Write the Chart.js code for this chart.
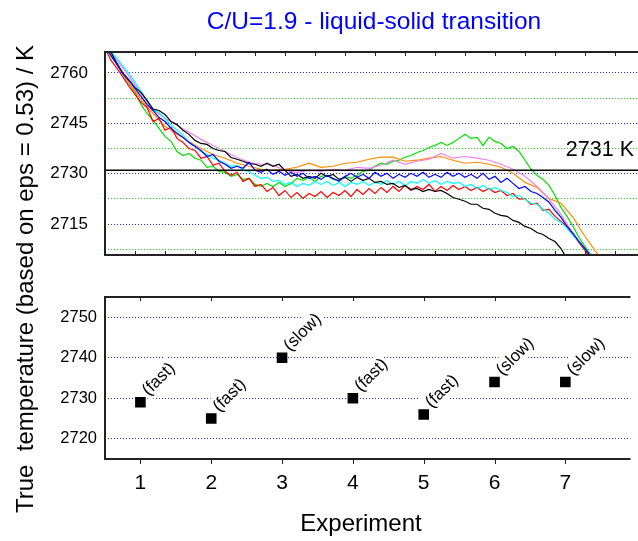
<!DOCTYPE html>
<html lang="en">
<head>
<meta charset="UTF-8">
<title>C/U=1.9 - liquid-solid transition</title>
<script src="https://cdn.jsdelivr.net/npm/chart.js@4.4.0/dist/chart.umd.min.js"></script>
<style>
    body { margin: 0; background: #fff; }
    #wrap { position: relative; width: 638px; height: 541px; font-family: "Liberation Sans", Arial, sans-serif; }
    #wrap canvas { position: absolute; left: 0; }
    #coolingChart { top: 0; }
    #meltChart { top: 265px; }
    .lbl { position: absolute; line-height: 1; white-space: pre; transform: translate(-50%, -50%); color: #000; }
    #title { left: 374px; top: 21px; font-size: 24.5px; color: #0000ff; }
    #xTitle { left: 361px; top: 523px; font-size: 24px; }
    #yTitle { left: 25px; top: 279px; font-size: 24px; transform: translate(-50%, -50%) rotate(-90deg); }
</style>
</head>
<body>
<div id="wrap">
    <canvas id="coolingChart" width="638" height="265"></canvas>
    <canvas id="meltChart" width="638" height="276"></canvas>
    <div class="lbl" id="title">C/U=1.9 - liquid-solid transition</div>
    <div class="lbl" id="yTitle">True  temperature (based on eps = 0.53) / K</div>
    <div class="lbl" id="xTitle">Experiment</div>
</div>

<script>
    // cooling curves, one per experiment (time in arbitrary units, 6 per sample)
    const curveBlack = [
        2768.2, 2766.1, 2762.8, 2759.8, 2757.8, 2755.6, 2754.2, 2751.8, 2749.2, 2748.8,
        2747.6, 2745.5, 2744.6, 2742.9, 2741.7, 2739.9, 2739.0, 2738.7, 2737.5, 2736.9,
        2736.6, 2734.8, 2734.3, 2733.7, 2733.0, 2732.8, 2732.2, 2733.1, 2732.2, 2732.8,
        2731.0, 2729.2, 2729.8, 2728.6, 2729.2, 2728.6, 2730.1, 2729.2, 2729.8, 2728.3,
        2728.9, 2727.7, 2728.9, 2728.0, 2728.6, 2727.4, 2727.7, 2726.8, 2727.1, 2725.9,
        2726.5, 2725.3, 2725.6, 2724.7, 2725.3, 2724.7, 2725.0, 2724.1, 2722.9, 2722.4,
        2721.8, 2720.9, 2720.9, 2719.7, 2719.4, 2718.2, 2717.6, 2717.3, 2716.1, 2715.5,
        2714.3, 2713.7, 2712.5, 2711.9, 2710.7, 2709.8, 2707.7, 2704.7, 2702.3
    ];
    const curveRed = [
        2767.3, 2763.7, 2761.3, 2758.7, 2756.0, 2753.6, 2751.2, 2749.7, 2745.5, 2746.4,
        2742.9, 2743.8, 2740.5, 2739.3, 2737.5, 2736.9, 2734.6, 2735.1, 2732.5, 2733.1,
        2730.7, 2729.5, 2730.4, 2727.7, 2728.6, 2726.2, 2726.8, 2724.7, 2725.9, 2723.5,
        2725.0, 2722.9, 2724.4, 2722.6, 2724.1, 2723.2, 2724.7, 2722.9, 2724.4, 2723.5,
        2725.0, 2723.2, 2725.3, 2723.8, 2725.6, 2724.1, 2725.9, 2724.4, 2726.2, 2724.7,
        2726.5, 2725.0, 2726.2, 2725.3, 2726.8, 2724.7, 2726.2, 2725.0, 2726.5, 2725.3,
        2726.2, 2725.0, 2725.9, 2724.7, 2725.6, 2724.4, 2725.0, 2723.5, 2724.1, 2722.4,
        2722.6, 2720.9, 2721.2, 2719.1, 2719.4, 2717.3, 2715.8, 2714.3, 2711.9, 2709.5,
        2707.2, 2704.7, 2702.3
    ];
    const curveGreen = [
        2767.9, 2764.9, 2762.5, 2759.5, 2756.9, 2754.2, 2750.6, 2747.9, 2745.9, 2743.5,
        2741.1, 2739.6, 2736.6, 2735.4, 2736.0, 2734.6, 2734.0, 2731.9, 2732.2, 2730.7,
        2730.4, 2729.2, 2729.8, 2728.3, 2728.6, 2726.8, 2726.2, 2727.1, 2726.2, 2727.4,
        2726.2, 2727.1, 2728.6, 2728.0, 2728.9, 2727.7, 2729.2, 2729.5, 2728.3, 2728.0,
        2729.2, 2728.6, 2729.5, 2730.7, 2731.0, 2732.2, 2733.1, 2732.8, 2733.7, 2734.0,
        2734.9, 2735.4, 2736.3, 2736.9, 2737.8, 2738.4, 2739.3, 2738.4, 2739.3, 2740.5,
        2741.7, 2740.5, 2740.8, 2738.4, 2740.8, 2739.6, 2739.0, 2737.5, 2738.1, 2736.6,
        2734.0, 2731.3, 2729.5, 2728.3, 2726.5, 2723.5, 2719.9, 2717.3, 2714.3, 2711.0,
        2708.3, 2705.7, 2703.0
    ];
    const curveBlue = [
        2768.2, 2765.2, 2762.5, 2759.8, 2757.8, 2755.4, 2753.0, 2750.6, 2748.8, 2746.7,
        2745.5, 2743.5, 2742.0, 2740.8, 2739.3, 2738.1, 2736.9, 2735.1, 2735.7, 2733.7,
        2732.8, 2731.6, 2732.2, 2731.6, 2733.4, 2731.0, 2730.4, 2731.3, 2729.8, 2730.7,
        2729.5, 2730.4, 2729.2, 2730.1, 2728.6, 2729.2, 2728.3, 2729.5, 2728.6, 2727.7,
        2729.2, 2730.1, 2728.9, 2729.8, 2728.6, 2730.4, 2729.2, 2730.1, 2728.6, 2729.8,
        2728.9, 2730.1, 2729.2, 2730.4, 2728.9, 2729.8, 2728.9, 2730.4, 2729.2, 2730.1,
        2728.9, 2729.8, 2728.6, 2730.1, 2728.3, 2729.2, 2727.4, 2728.6, 2727.1, 2725.6,
        2726.2, 2724.7, 2724.1, 2722.9, 2721.5, 2719.1, 2717.0, 2714.3, 2712.2, 2709.8,
        2707.7, 2705.4, 2703.0
    ];
    const curveCyan = [
        2768.8, 2766.1, 2764.3, 2761.9, 2759.8, 2757.1, 2754.5, 2751.8, 2749.1, 2748.2,
        2746.4, 2744.4, 2742.9, 2741.4, 2739.3, 2738.1, 2736.6, 2735.7, 2734.6, 2734.0,
        2733.1, 2732.2, 2732.5, 2731.0, 2730.7, 2729.5, 2728.6, 2728.9, 2727.7, 2728.0,
        2726.8, 2727.4, 2726.2, 2727.1, 2726.5, 2727.7, 2726.8, 2727.7, 2726.5, 2727.4,
        2726.2, 2727.4, 2726.8, 2727.7, 2726.5, 2727.4, 2726.8, 2728.0, 2726.8, 2727.7,
        2726.5, 2727.7, 2727.1, 2728.3, 2727.1, 2728.0, 2726.8, 2727.7, 2727.1, 2727.4,
        2726.2, 2726.8, 2725.6, 2726.5, 2725.3, 2725.9, 2725.0, 2724.4, 2723.2, 2723.5,
        2722.4, 2721.2, 2720.9, 2719.4, 2718.2, 2716.4, 2715.5, 2713.7, 2711.6, 2709.8,
        2707.7, 2705.7, 2703.3
    ];
    // these two were logged every 12 time units
    const curveOrange = [
        2767.9, 2762.5, 2757.1, 2752.1, 2747.9, 2744.1, 2741.7, 2739.6, 2737.5, 2735.7,
        2734.6, 2733.1, 2732.2, 2731.3, 2731.0, 2731.3, 2731.9, 2733.1, 2731.9, 2732.2,
        2733.1, 2733.4, 2734.3, 2734.9, 2734.9, 2733.7, 2734.0, 2734.6, 2735.1, 2734.0,
        2733.1, 2733.4, 2732.8, 2731.9, 2730.1, 2727.4, 2725.9, 2722.6, 2721.2, 2717.0,
        2711.3, 2706.3, 2701.2
    ];
    const curveViolet = [
        2768.8, 2763.7, 2759.0, 2753.9, 2749.1, 2746.4, 2744.4, 2742.3, 2740.2, 2738.4,
        2736.6, 2734.8, 2733.4, 2732.8, 2732.5, 2731.0, 2730.4, 2731.0, 2730.7, 2731.3,
        2731.0, 2731.9, 2731.6, 2732.5, 2734.0, 2732.8, 2733.7, 2734.3, 2736.0, 2734.6,
        2735.1, 2734.6, 2734.0, 2732.8, 2731.3, 2729.2, 2726.2, 2722.4, 2717.9, 2712.2,
        2707.7, 2703.3
    ];

    const meltLevel = 2731;          // K, reference line
    const coolGridMajor = [2715, 2730, 2745, 2760];
    const coolGridMinor = [2707.5, 2722.5, 2737.5, 2752.5];

    // melting point found in each experiment
    const experiments = [1, 2, 3, 4, 5, 6, 7];
    const meltTemps = [2729, 2725, 2740, 2730, 2726, 2734, 2734];
    const rates = ['fast', 'fast', 'slow', 'fast', 'fast', 'slow', 'slow'];
    const meltTicks = [2720, 2730, 2740, 2750];

    const FONT = '"Liberation Sans", Arial, sans-serif';
    const BLUE_GRID = 'rgba(0, 0, 255, 0.85)';
    const GREEN_GRID = 'rgba(0, 220, 0, 0.9)';

    const toPoints = (values, step) => values.map((v, i) => ({ x: i * step, y: v }));

    function curve(values, step, color) {
        return { data: toPoints(values, step), borderColor: color, borderWidth: 1.2, pointRadius: 0, tension: 0 };
    }

    // y axis: fixed width, and no extra room reserved for the end labels
    function fixYAxis(s) {
        s.width = 105;
        s.paddingTop = 0;
        s.paddingBottom = 0;
    }

    // box border plus small inner/outer tick marks on the x scale
    const framePlugin = {
        id: 'frame',
        afterDraw(chart, args, opts) {
            const { ctx, chartArea: { left, top, right, bottom }, scales: { x } } = chart;
            ctx.save();
            ctx.strokeStyle = '#222';
            ctx.lineWidth = 1;
            ctx.beginPath();
            x.ticks.forEach(t => {
                const px = Math.round(x.getPixelForValue(t.value)) + 0.5;
                if (px <= left + 2) return;
                ctx.moveTo(px, top);
                ctx.lineTo(px, top + opts.topLen);
                ctx.moveTo(px, bottom);
                ctx.lineTo(px, bottom + opts.bottomLen);
            });
            ctx.stroke();
            ctx.lineWidth = 2;
            ctx.beginPath();
            ctx.moveTo(right, top);
            ctx.lineTo(left, top);
            ctx.lineTo(left, bottom);
            ctx.lineTo(right, bottom);
            ctx.stroke();
            ctx.restore();
        }
    };

    const meltTextPlugin = {
        id: 'meltText',
        afterDatasetsDraw(chart) {
            const { ctx, chartArea, scales: { y } } = chart;
            ctx.save();
            ctx.font = '21.5px ' + FONT;
            ctx.fillStyle = '#000';
            ctx.textAlign = 'right';
            ctx.textBaseline = 'alphabetic';
            ctx.fillText(meltLevel + ' K', chartArea.right - 4, y.getPixelForValue(meltLevel) - 14);
            ctx.restore();
        }
    };

    new Chart(document.getElementById('coolingChart'), {
        type: 'line',
        data: {
            datasets: [
                { data: [{ x: 0, y: meltLevel }, { x: 533, y: meltLevel }], borderColor: '#000', borderWidth: 1.6, pointRadius: 0 },
                curve(curveBlue, 6, '#0000ff'),
                curve(curveBlack, 6, '#000000'),
                curve(curveCyan, 6, '#00ffff'),
                curve(curveRed, 6, '#ff0000'),
                curve(curveViolet, 12, '#ee82ee'),
                curve(curveOrange, 12, '#ff8c00'),
                curve(curveGreen, 6, '#00e000')
            ]
        },
        options: {
            responsive: false,
            animation: false,
            layout: { padding: { top: 52, right: 0, bottom: 0, left: 0 } },
            plugins: {
                legend: { display: false },
                tooltip: { enabled: false },
                frame: { topLen: 4, bottomLen: -4 }
            },
            scales: {
                x: {
                    type: 'linear', min: 0, max: 533,
                    ticks: { display: false, stepSize: 30, includeBounds: false },
                    grid: { display: false, drawTicks: false },
                    border: { display: false },
                    afterFit: s => { s.height = 10; }
                },
                y: {
                    min: 2705.8, max: 2766.2,
                    afterBuildTicks: s => { s.ticks = [...coolGridMinor, ...coolGridMajor].sort((a, b) => a - b).map(v => ({ value: v })); },
                    ticks: {
                        color: '#000', padding: 17, font: { family: FONT, size: 17 },
                        callback: v => coolGridMajor.includes(v) ? String(v) : ''
                    },
                    grid: {
                        drawTicks: false, lineWidth: 1,
                        color: c => coolGridMajor.includes(c.tick.value) ? BLUE_GRID : GREEN_GRID
                    },
                    border: { display: false, dash: [1, 2] },
                    afterFit: fixYAxis
                }
            }
        },
        plugins: [framePlugin, meltTextPlugin]
    });

    // rotated "(fast)" / "(slow)" notes with a white box behind them
    const rateLabelPlugin = {
        id: 'rateLabels',
        beforeDatasetsDraw(chart) {
            const { ctx } = chart;
            const meta = chart.getDatasetMeta(0);
            ctx.save();
            ctx.font = '17px ' + FONT;
            ctx.textBaseline = 'alphabetic';
            meta.data.forEach((pt, i) => {
                const text = '(' + rates[i] + ')';
                const w = ctx.measureText(text).width;
                ctx.save();
                ctx.translate(pt.x + 8, pt.y - 6);
                ctx.rotate(-Math.PI / 4);
                ctx.fillStyle = '#fff';
                ctx.fillRect(-2, -16, w + 4, 21);
                ctx.fillStyle = '#000';
                ctx.fillText(text, 0, 0);
                ctx.restore();
            });
            ctx.restore();
        }
    };

    new Chart(document.getElementById('meltChart'), {
        type: 'scatter',
        data: {
            datasets: [{
                data: experiments.map((e, i) => ({ x: e, y: meltTemps[i] })),
                pointStyle: 'rect',
                pointRadius: 7.5,
                backgroundColor: '#000',
                borderWidth: 0
            }]
        },
        options: {
            responsive: false,
            animation: false,
            layout: { padding: { top: 32, right: 0, bottom: 0, left: 0 } },
            plugins: {
                legend: { display: false },
                tooltip: { enabled: false },
                frame: { topLen: 4, bottomLen: 5 }
            },
            scales: {
                x: {
                    type: 'linear', min: 0.5, max: 7.92,
                    afterBuildTicks: s => { s.ticks = experiments.map(v => ({ value: v })); },
                    ticks: { color: '#000', padding: 12, font: { family: FONT, size: 21 }, callback: v => String(v) },
                    grid: { display: false, drawTicks: false },
                    border: { display: false },
                    afterFit: s => { s.height = 82; }
                },
                y: {
                    min: 2715, max: 2755,
                    afterBuildTicks: s => { s.ticks = meltTicks.map(v => ({ value: v })); },
                    ticks: { color: '#000', padding: 8, font: { family: FONT, size: 16.5 }, callback: v => String(v) },
                    grid: { drawTicks: false, lineWidth: 1, color: BLUE_GRID },
                    border: { display: false, dash: [1, 2] },
                    afterFit: fixYAxis
                }
            }
        },
        plugins: [framePlugin, rateLabelPlugin]
    });
</script>
</body>
</html>
